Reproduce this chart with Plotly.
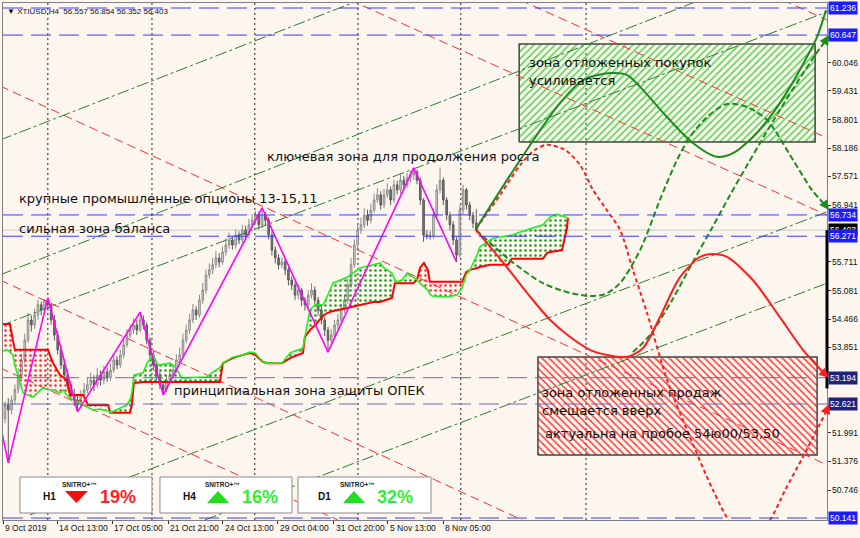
import plotly.graph_objects as go

BG = "#fdf6ee"

# ---------------- candles (H4 bars, bar index 0..143) ----------------
opens = [52.30, 52.60, 52.49, 52.71, 52.93, 53.25, 53.58, 54.01, 54.45, 54.34,
         54.56, 54.78, 54.67, 54.88, 54.78, 54.45, 54.12, 53.80, 53.47, 53.25,
         53.04, 52.82, 52.71, 52.60, 52.82, 52.93, 53.04, 53.14, 53.04, 53.25,
         53.14, 53.32, 53.19, 53.36, 53.58, 53.47, 53.69, 53.91, 54.12, 54.23,
         54.34, 54.23, 54.45, 54.34, 54.01, 53.69, 53.47, 53.25, 53.04, 52.93,
         53.14, 53.25, 53.36, 53.58, 53.69, 54.01, 54.23, 54.45, 54.67, 54.56,
         54.88, 55.10, 55.43, 55.54, 55.65, 55.80, 55.71, 55.93, 56.08, 56.19,
         56.08, 56.30, 56.19, 56.41, 56.30, 56.52, 56.62, 56.73, 56.52, 56.73,
         56.62, 56.30, 55.97, 55.80, 55.65, 55.71, 55.54, 55.32, 55.21, 54.99,
         55.10, 54.88, 54.78, 54.99, 55.10, 54.88, 54.67, 54.45, 54.23, 54.01,
         54.12, 54.34, 54.45, 54.67, 54.88, 55.21, 55.65, 56.08, 56.41, 56.52,
         56.73, 56.62, 56.84, 57.06, 57.17, 56.95, 57.17, 57.28, 57.06, 57.39,
         57.28, 57.49, 57.39, 57.54, 57.60, 57.67, 57.49, 57.06, 56.30, 56.28,
         56.28, 56.73, 57.28, 57.49, 57.06, 56.73, 56.52, 56.19, 55.86, 56.84,
         57.28, 56.95, 56.73, 56.557]
highs = [52.68, 52.75, 52.80, 53.05, 53.40, 53.70, 54.15, 54.60, 54.55, 54.70,
         54.88, 54.85, 54.90, 54.93, 54.82, 54.55, 54.20, 53.90, 53.60, 53.35,
         53.12, 52.95, 52.80, 52.92, 53.08, 53.20, 53.30, 53.25, 53.40, 53.35,
         53.45, 53.42, 53.50, 53.70, 53.66, 53.80, 54.02, 54.25, 54.35, 54.48,
         54.45, 54.62, 54.55, 54.40, 54.08, 53.78, 53.55, 53.32, 53.12, 53.25,
         53.38, 53.48, 53.70, 53.85, 54.15, 54.35, 54.58, 54.80, 54.75, 55.00,
         55.25, 55.55, 55.68, 55.80, 55.95, 55.90, 56.05, 56.22, 56.35, 56.28,
         56.42, 56.38, 56.52, 56.50, 56.65, 56.75, 56.82, 56.80, 56.89, 56.80,
         56.68, 56.38, 56.05, 55.88, 55.82, 55.78, 55.60, 55.40, 55.28, 55.22,
         55.15, 54.95, 55.10, 55.25, 55.18, 54.95, 54.75, 54.52, 54.30, 54.25,
         54.45, 54.58, 54.80, 55.00, 55.35, 55.80, 56.20, 56.55, 56.68, 56.88,
         56.85, 56.98, 57.20, 57.32, 57.25, 57.30, 57.42, 57.35, 57.50, 57.48,
         57.62, 57.58, 57.65, 57.70, 57.76, 57.72, 57.55, 57.10, 56.40, 56.38,
         56.85, 57.40, 57.76, 57.55, 57.12, 56.80, 56.60, 56.25, 56.95, 57.39,
         57.32, 57.02, 56.80, 56.854]
lows = [52.20, 51.34, 52.40, 52.62, 52.85, 53.15, 53.50, 53.95, 54.20, 54.25,
        54.45, 54.55, 54.60, 54.65, 54.35, 54.00, 53.70, 53.38, 53.12, 52.95,
        52.70, 52.58, 52.45, 52.52, 52.74, 52.85, 52.95, 52.90, 52.98, 53.02,
        53.05, 53.10, 53.12, 53.30, 53.38, 53.40, 53.62, 53.85, 54.05, 54.15,
        54.12, 54.18, 54.25, 53.92, 53.58, 53.36, 53.15, 52.95, 52.82, 52.88,
        53.06, 53.18, 53.30, 53.50, 53.62, 53.95, 54.15, 54.38, 54.45, 54.50,
        54.80, 55.02, 55.35, 55.45, 55.58, 55.60, 55.65, 55.85, 56.00, 55.98,
        56.00, 56.10, 56.12, 56.20, 56.22, 56.45, 56.55, 56.42, 56.45, 56.50,
        56.20, 55.85, 55.68, 55.55, 55.58, 55.42, 55.20, 55.10, 54.88, 54.90,
        54.75, 54.65, 54.70, 54.92, 54.78, 54.55, 54.35, 54.10, 53.75, 53.90,
        54.05, 54.25, 54.38, 54.60, 54.80, 55.15, 55.58, 56.00, 56.32, 56.45,
        56.50, 56.55, 56.78, 57.00, 56.85, 56.88, 57.10, 56.95, 57.00, 57.18,
        57.20, 57.30, 57.32, 57.45, 57.50, 57.40, 56.95, 56.15, 56.20, 56.20,
        56.22, 56.65, 57.20, 56.95, 56.62, 56.40, 56.08, 55.71, 55.80, 56.75,
        56.85, 56.62, 56.45, 56.352]
closes = [52.60, 52.49, 52.71, 52.93, 53.25, 53.58, 54.01, 54.45, 54.34, 54.56,
          54.78, 54.67, 54.88, 54.78, 54.45, 54.12, 53.80, 53.47, 53.25, 53.04,
          52.82, 52.71, 52.60, 52.82, 52.93, 53.04, 53.14, 53.04, 53.25, 53.14,
          53.32, 53.19, 53.36, 53.58, 53.47, 53.69, 53.91, 54.12, 54.23, 54.34,
          54.23, 54.45, 54.34, 54.01, 53.69, 53.47, 53.25, 53.04, 52.93, 53.14,
          53.25, 53.36, 53.58, 53.69, 54.01, 54.23, 54.45, 54.67, 54.56, 54.88,
          55.10, 55.43, 55.54, 55.65, 55.80, 55.71, 55.93, 56.08, 56.19, 56.08,
          56.30, 56.19, 56.41, 56.30, 56.52, 56.62, 56.73, 56.52, 56.73, 56.62,
          56.30, 55.97, 55.80, 55.65, 55.71, 55.54, 55.32, 55.21, 54.99, 55.10,
          54.88, 54.78, 54.99, 55.10, 54.88, 54.67, 54.45, 54.23, 54.01, 54.12,
          54.34, 54.45, 54.67, 54.88, 55.21, 55.65, 56.08, 56.41, 56.52, 56.73,
          56.62, 56.84, 57.06, 57.17, 56.95, 57.17, 57.28, 57.06, 57.39, 57.28,
          57.49, 57.39, 57.54, 57.60, 57.67, 57.49, 57.06, 56.30, 56.28, 56.28,
          56.73, 57.28, 57.49, 57.06, 56.73, 56.52, 56.19, 55.86, 56.84, 57.28,
          56.95, 56.73, 56.557, 56.403]
bar_idx = list(range(len(closes)))

# ---------------- zigzag ----------------
zigzag_bar = [-1.5, 1, 13, 22, 41, 48, 78, 98, 124, 137]
zigzag_price = [52.20, 51.34, 54.93, 52.45, 54.62, 52.82, 56.89, 53.75, 57.76, 55.71]

# ---------------- ichimoku cloud (span B red, span A green) ----------------
cloud_bar = [-1.5, 0.6, 1.5, 2.4, 3.0, 4.6, 5.5, 8.5, 11.5, 13.0, 14.6, 16.7, 17.6, 18.8,
             19.7, 22.1, 23.7, 25.2, 26.7, 28.8, 31.3, 31.9, 34.9, 37.0, 37.9, 38.5, 39.1,
             41.9, 43.1, 44.9, 46.4, 50.1, 51.6, 53.7, 61.3, 63.1, 65.2, 66.1, 69.1, 72.2,
             74.3, 75.9, 78.3, 79.8, 84.0, 86.5, 90.4, 91.0, 92.5, 94.1, 96.5, 97.7, 99.5,
             103.8, 107.7, 111.7, 113.8, 114.7, 117.4, 118.3, 118.9, 120.5, 122.0, 123.8,
             125.0, 125.9, 127.1, 128.3, 128.9, 129.6, 134.1, 137.1, 138.7, 139.9, 141.1,
             143.2, 144.1, 147.2, 148.1, 152.6, 153.8, 158.4, 163.2, 164.5, 165.4, 167.5,
             169.0, 170.5, 170.8]
span_b = [54.36, 54.36, 54.36, 54.01, 53.80, 53.80, 53.80, 53.80, 53.80, 53.80, 53.51, 53.25,
          53.21, 53.14, 52.82, 52.82, 52.82, 52.60, 52.60, 52.60, 52.60, 52.43, 52.43, 52.43,
          52.43, 52.60, 53.08, 53.10, 53.10, 53.10, 53.10, 53.10, 53.10, 53.10, 53.10, 53.10,
          53.10, 53.51, 53.62, 53.69, 53.73, 53.69, 53.535, 53.51, 53.51, 53.62, 53.73, 54.08,
          54.23, 54.34, 54.54, 54.60, 54.645, 54.71, 54.78, 54.84, 54.84, 54.86, 54.93, 55.25,
          55.25, 55.25, 55.25, 55.25, 55.32, 55.58, 55.69, 55.54, 55.28, 55.28, 55.28, 55.28,
          55.28, 55.49, 55.54, 55.58, 55.60, 55.65, 55.65, 55.65, 55.78, 55.78, 55.78, 55.91,
          55.93, 55.95, 55.97, 56.45, 56.67]
span_a = [53.75, 53.80, 53.75, 53.69, 53.47, 53.08, 52.86, 52.77, 52.97, 52.93, 52.93, 52.86,
          52.93, 52.82, 52.75, 52.66, 52.60, 52.56, 52.49, 52.51, 52.47, 52.43, 52.535, 52.60,
          52.71, 52.86, 53.25, 53.30, 53.51, 53.69, 53.47, 53.51, 53.43, 53.19, 53.21, 53.32,
          53.41, 53.51, 53.64, 53.69, 53.75, 53.73, 53.535, 53.51, 53.51, 53.73, 53.84, 54.08,
          54.67, 54.78, 54.78, 54.95, 55.25, 55.38, 55.58, 55.65, 55.69, 55.60, 55.47, 55.32,
          55.28, 55.32, 55.47, 55.38, 55.32, 55.25, 55.17, 55.10, 55.01, 54.97, 54.95, 54.99,
          55.15, 55.43, 55.54, 55.86, 56.04, 56.19, 56.23, 56.28, 56.30, 56.41, 56.52, 56.62,
          56.69, 56.755, 56.71, 56.67, 56.67]

# ---------------- forecast paths ----------------
solid_green_bar = [142.9, 156.3, 168.4, 175.4, 183.6, 188.7, 192.7, 200.9, 208.7, 216.0,
                   220.9, 226.9, 233.0, 238.2, 243.3, 246.4, 249.1]
solid_green_price = [56.43, 57.93, 59.17, 59.67, 59.82, 59.78, 59.52, 58.86, 58.30, 58.00,
                     58.08, 58.43, 58.95, 59.52, 60.17, 60.61, 61.19]
dash_red_bar = [142.9, 150.2, 156.3, 160.8, 164.4, 169.9, 174.5, 178.4, 182.6, 186.6, 190.5,
                194.8, 200.9, 206.9, 214.8, 220.6, 226.6, 232.1, 236.7, 242.1, 249.1]
dash_red_price = [56.43, 57.17, 57.82, 58.15, 58.26, 58.15, 57.82, 57.28, 56.84, 56.41, 55.54,
                  54.60, 53.14, 52.06, 50.75, 49.99, 49.71, 50.10, 50.75, 51.47, 52.45]
solid_red_bar = [142.9, 151.7, 160.2, 165.4, 171.5, 177.5, 182.6, 188.7, 193.6, 198.7, 204.8,
                 210.9, 214.8, 219.1, 226.9, 235.1, 242.1, 248.5]
solid_red_price = [56.41, 55.65, 54.88, 54.45, 54.08, 53.80, 53.69, 53.645, 53.84, 54.51, 55.38,
                   55.82, 55.885, 55.82, 55.32, 54.51, 53.80, 53.29]
dash_green1_bar = [142.9, 153.2, 163.2, 171.4, 177.5, 182.0, 186.6, 192.7, 198.7, 203.9, 207.8,
                   213.0, 219.1, 225.2, 231.2, 239.1, 244.8, 249.1]
dash_green1_price = [56.41, 55.75, 55.25, 55.04, 54.97, 55.01, 55.25, 55.97, 57.06, 57.93, 58.43,
                     58.865, 59.15, 59.08, 58.80, 57.93, 57.28, 56.93]
dash_green2_bar = [190.5, 195.7, 202.4, 208.7, 214.5, 220.0, 225.2, 230.0, 235.1, 241.2, 245.8, 249.1]
dash_green2_price = [53.75, 54.12, 54.88, 55.71, 56.45, 57.17, 57.82, 58.41, 59.02, 59.71, 60.21, 60.54]

# arrow tips (bar, price)
tips = {"sg": (250.0, 61.236), "rd": (250.0, 52.621), "sr": (250.0, 53.194),
        "dg1": (250.0, 56.84), "dg2": (250.0, 60.647)}

# ---------------- channel lines: (bar0, price0, bar1, price1) ----------------
green_channels = [(7.6, 50.21, 249.4, 56.80), (60.7, 50.10, 249.4, 55.25),
                  (-1.5, 54.32, 249.4, 61.15), (-1.5, 55.43, 210.9, 61.41),
                  (-1.5, 58.365, 107.7, 61.41)]
red_channels = [(-1.5, 59.54, 249.4, 51.295), (-1.5, 55.32, 156.9, 50.10),
                (-1.5, 53.405, 101.0, 50.10), (104.7, 61.41, 249.4, 56.73),
                (156.3, 61.41, 249.4, 58.41), (236.0, 61.41, 249.4, 60.975)]

# ---------------- zones ----------------
buy_zone = (156.0, 245.8, 58.32, 60.453)   # bar0, bar1, price_low, price_high
sell_zone = (161.7, 246.4, 51.51, 53.644)

# ---------------- levels & axis ----------------
level_prices = [61.236, 60.647, 56.734, 56.271, 53.194, 52.621, 50.141]
level_line_colors = ["#3a3aff", "#3a3aff", "#3a3aff", "#3a3aff", "#6a6ab0", "#6a6ab0", "#3a3aff"]
level_label_bg = ["#1c1cff", "#1c1cff", "#1c1cff", "#1c1cff", "#22227a", "#22227a", "#1c1cff"]
current_price = 56.403
y_tick_vals = [60.046, 59.431, 58.801, 58.186, 57.571, 56.941, 55.711, 55.081, 54.466,
               53.851, 51.991, 51.376, 50.746]
x_tick_bars = [-0.6, 15.8, 32.5, 49.5, 66.1, 82.8, 99.8, 116.2, 132.9]
x_tick_labels = ["9 Oct 2019", "14 Oct 13:00", "17 Oct 05:00", "21 Oct 21:00", "24 Oct 13:00",
                 "29 Oct 04:00", "31 Oct 20:00", "5 Nov 13:00", "8 Nov 05:00"]
grid_bars = [13.0, 44.6, 75.8, 107.1, 138.3, 176.3]

# widgets
widget_tf = ["H1", "H4", "D1"]
widget_pct = ["19%", "16%", "32%"]
widget_up = [False, True, True]

fig = go.Figure()

# zones (hatched)
for (b0, b1, plo, phi), shp, col in [(buy_zone, "/", "#4fd64f"), (sell_zone, "\\", "#ff3b3b")]:
    fig.add_trace(go.Scatter(x=[b0, b1, b1, b0, b0], y=[plo, plo, phi, phi, plo], mode="lines",
                             fill="toself", fillcolor="rgba(0,0,0,0)",
                             fillpattern=dict(shape=shp, fgcolor=col, bgcolor="rgba(0,0,0,0)",
                                              size=5, solidity=0.3, fillmode="replace"),
                             line=dict(color="#444444", width=1.5), hoverinfo="skip",
                             showlegend=False))

# channel lines
for b0, p0, b1, p1 in green_channels:
    fig.add_trace(go.Scatter(x=[b0, b1], y=[p0, p1], mode="lines",
                             line=dict(color="#2f7d2f", width=1, dash="12px,3px,3px,3px"),
                             hoverinfo="skip", showlegend=False))
for b0, p0, b1, p1 in red_channels:
    fig.add_trace(go.Scatter(x=[b0, b1], y=[p0, p1], mode="lines",
                             line=dict(color="#ff3030", width=1, dash="9px,5px"),
                             hoverinfo="skip", showlegend=False))

# cloud fills
polys = []
cx, ca, cb = [cloud_bar[0]], [span_a[0]], [span_b[0]]
g = span_a[0] >= span_b[0]
for k in range(1, len(cloud_bar)):
    gk = span_a[k] >= span_b[k]
    if gk != g:
        d0 = span_a[k - 1] - span_b[k - 1]
        d1 = span_a[k] - span_b[k]
        t = d0 / (d0 - d1)
        xc = cloud_bar[k - 1] + t * (cloud_bar[k] - cloud_bar[k - 1])
        yc = span_a[k - 1] + t * (span_a[k] - span_a[k - 1])
        cx.append(xc); ca.append(yc); cb.append(yc)
        polys.append((g, cx, ca, cb))
        cx, ca, cb = [xc], [yc], [yc]
        g = gk
    cx.append(cloud_bar[k]); ca.append(span_a[k]); cb.append(span_b[k])
polys.append((g, cx, ca, cb))
for green, px, pa, pb in polys:
    col = "#1f9a1f" if green else "#ff2a2a"
    fig.add_trace(go.Scatter(x=px + px[::-1], y=pa + pb[::-1], mode="lines", fill="toself",
                             fillcolor="rgba(0,0,0,0)", line=dict(width=0),
                             fillpattern=dict(shape=".", fgcolor=col, bgcolor="rgba(0,0,0,0)",
                                              size=5, solidity=0.2, fillmode="replace"),
                             hoverinfo="skip", showlegend=False))
fig.add_trace(go.Scatter(x=cloud_bar, y=span_b, mode="lines", line=dict(color="#ff0000", width=2),
                         hoverinfo="skip", showlegend=False))
fig.add_trace(go.Scatter(x=cloud_bar, y=span_a, mode="lines", line=dict(color="#22ee22", width=1.6),
                         hoverinfo="skip", showlegend=False))

# candles
fig.add_trace(go.Candlestick(x=bar_idx, open=opens, high=highs, low=lows, close=closes,
                             increasing=dict(line=dict(color="#8a8a8a", width=1), fillcolor="#dcdcdc"),
                             decreasing=dict(line=dict(color="#5a5a5a", width=1), fillcolor="#7a7a7a"),
                             whiskerwidth=0, hoverinfo="skip", showlegend=False))

# zigzag
fig.add_trace(go.Scatter(x=zigzag_bar, y=zigzag_price, mode="lines",
                         line=dict(color="#ff00ff", width=1.6), hoverinfo="skip", showlegend=False))

# forecast paths
paths = [
    (dash_red_bar, dash_red_price, "#ff1e1e", "4px,3px", "rd"),
    (dash_green1_bar, dash_green1_price, "#1e8c1e", "6px,3px", "dg1"),
    (dash_green2_bar, dash_green2_price, "#1e8c1e", "6px,3px", "dg2"),
    (solid_red_bar, solid_red_price, "#ff1e1e", "solid", "sr"),
    (solid_green_bar, solid_green_price, "#1e8c1e", "solid", "sg"),
]
arrow_annots = []
for xs, ys, col, dash, key in paths:
    fig.add_trace(go.Scatter(x=xs, y=ys, mode="lines", line=dict(color=col, width=2, dash=dash,
                                                                  shape="spline", smoothing=0.8),
                             hoverinfo="skip", showlegend=False))
    tx, ty = tips[key]
    arrow_annots.append(dict(x=tx, y=ty, ax=xs[-1], ay=ys[-1], xref="x", yref="y", axref="x",
                             ayref="y", showarrow=True, arrowhead=2, arrowsize=1.1,
                             arrowwidth=1.8, arrowcolor=col, text=""))

shapes = []
# vertical dotted grid
for gb in grid_bars:
    shapes.append(dict(type="line", xref="x", yref="paper", x0=gb, x1=gb, y0=0, y1=1,
                       line=dict(color="#222222", width=1, dash="2px,3px"), layer="below"))
# current price line
shapes.append(dict(type="line", xref="paper", yref="y", x0=0, x1=1, y0=current_price,
                   y1=current_price, line=dict(color="#c8c8c8", width=1), layer="below"))
# horizontal levels
for lp, lc in zip(level_prices, level_line_colors):
    shapes.append(dict(type="line", xref="paper", yref="y", x0=0, x1=1, y0=lp, y1=lp,
                       line=dict(color=lc, width=1, dash="20px,8px")))
# black bar on price scale
shapes.append(dict(type="line", xref="paper", yref="y", x0=1.0, x1=1.0, y0=current_price,
                   y1=52.96, line=dict(color="#000000", width=3)))

# widgets
wx = [(0.0206, 0.1808), (0.1905, 0.3507), (0.3580, 0.5194)]
for (x0, x1) in wx:
    shapes.append(dict(type="rect", xref="paper", yref="paper", x0=x0, x1=x1, y0=0.0135,
                       y1=0.0832, fillcolor="#ffffff", line=dict(color="#8a8a8a", width=1)))

annots = []
tri_x = [(0.0752, 0.1031), (0.2476, 0.2743), (0.4126, 0.4393)]
pct_x = [0.139, 0.3113, 0.4763]
tf_x = [0.057, 0.2269, 0.3896]
sn_x = [0.0934, 0.2658, 0.4308]
for k in range(3):
    a0, a1 = tri_x[k]
    mid = (a0 + a1) / 2
    if widget_up[k]:
        path = f"M {a0},0.0329 L {a1},0.0329 L {mid},0.0561 Z"
        col = "#22dd22"
        tcol = "#33ee33"
    else:
        path = f"M {a0},0.0561 L {a1},0.0561 L {mid},0.0329 Z"
        col = "#ee1111"
        tcol = "#ff2222"
    shapes.append(dict(type="path", xref="paper", yref="paper", path=path, fillcolor=col,
                       line=dict(width=0)))
    annots.append(dict(x=pct_x[k], y=0.0445, xref="paper", yref="paper", xanchor="center",
                       yanchor="middle", text=f"<b>{widget_pct[k]}</b>", showarrow=False,
                       font=dict(family="Liberation Sans, Arial", size=18, color=tcol)))
    annots.append(dict(x=tf_x[k], y=0.0445, xref="paper", yref="paper", xanchor="center",
                       yanchor="middle", text=f"<b>{widget_tf[k]}</b>", showarrow=False,
                       font=dict(family="Liberation Sans, Arial", size=10, color="#111111")))
    annots.append(dict(x=sn_x[k], y=0.0677, xref="paper", yref="paper", xanchor="center",
                       yanchor="middle", text="<b>SNITRO+™</b>", showarrow=False,
                       font=dict(family="Liberation Sans, Arial", size=6.5, color="#222222")))

# chart texts
TXT = dict(family="DejaVu Sans", size=13, color="#111111")
notes = [
    (78.9, 57.995, "ключевая зона для продолжения роста"),
    (3.6, 57.10, "крупные промышленные опционы 13-15,11"),
    (3.6, 56.43, "сильная зона баланса"),
    (50.7, 52.905, "принципиальная зона защиты ОПЕК"),
    (158.4, 60.04, "зона отложенных покупок"),
    (158.4, 59.67, "усиливается"),
    (162.3, 52.88, "зона отложенных продаж"),
    (162.3, 52.49, "смещается вверх"),
    (163.2, 51.97, "актуальна на пробое 54ю00/53,50"),
]
for nx, ny, nt in notes:
    annots.append(dict(x=nx, y=ny, xref="x", yref="y", text=nt, showarrow=False, xanchor="left",
                       yanchor="middle", font=TXT))

# header
annots.append(dict(x=0.003, y=0.997, xref="paper", yref="paper", xanchor="left", yanchor="top",
                   text="▼ XTIUSD,H4  56.557 56.854 56.352 56.403", showarrow=False,
                   font=dict(family="Liberation Sans, Arial", size=8, color="#111111")))

# x tick labels
for tb, tl in zip(x_tick_bars, x_tick_labels):
    annots.append(dict(x=tb, y=0, xref="x", yref="paper", xanchor="left", yanchor="top", yshift=-1,
                       text=tl, showarrow=False,
                       font=dict(family="Liberation Sans, Arial", size=8.5, color="#111111")))

# y tick labels
LBL = dict(family="Liberation Sans, Arial", size=8.5, color="#111111")
for v in y_tick_vals:
    annots.append(dict(x=1, y=v, xref="paper", yref="y", xanchor="left", yanchor="middle", xshift=3,
                       text=f"{v:.3f}", showarrow=False, font=LBL))

# price labels on scale
annots.append(dict(x=1, y=current_price, xref="paper", yref="y", xanchor="left", yanchor="middle",
                   xshift=1, text="56.403", showarrow=False, bgcolor="#000000", borderpad=1,
                   font=dict(family="Liberation Sans, Arial", size=8.5, color="#ffffff")))
for lp, bg in zip(level_prices, level_label_bg):
    annots.append(dict(x=1, y=lp, xref="paper", yref="y", xanchor="left", yanchor="middle", xshift=1,
                       text=f"{lp:.3f}", showarrow=False, bgcolor=bg, borderpad=1,
                       font=dict(family="Liberation Sans, Arial", size=8.5, color="#ffffff")))

fig.update_layout(
    width=860, height=538, margin=dict(l=3, r=33, t=3, b=18, autoexpand=False),
    paper_bgcolor=BG, plot_bgcolor=BG, showlegend=False,
    shapes=shapes, annotations=annots + arrow_annots,
    xaxis=dict(range=[-0.6, 249.4], showgrid=False, zeroline=False, showline=True, mirror=True,
               linecolor="#808080", linewidth=1, tickvals=x_tick_bars, showticklabels=False,
               ticks="outside", ticklen=3, tickcolor="#333333", automargin=False,
               rangeslider=dict(visible=False)),
    yaxis=dict(range=[50.098, 61.345], side="right", showgrid=False, zeroline=False,
               showline=True, mirror=True, linecolor="#808080", linewidth=1,
               tickvals=y_tick_vals, showticklabels=False, automargin=False,
               ticks="outside", ticklen=3, tickcolor="#333333"),
)

fig.write_html("out.html", config={"displayModeBar": False},
               post_script="document.body.style.margin='0';document.body.style.overflow='hidden';"
                           "document.body.style.background='" + BG + "';")
